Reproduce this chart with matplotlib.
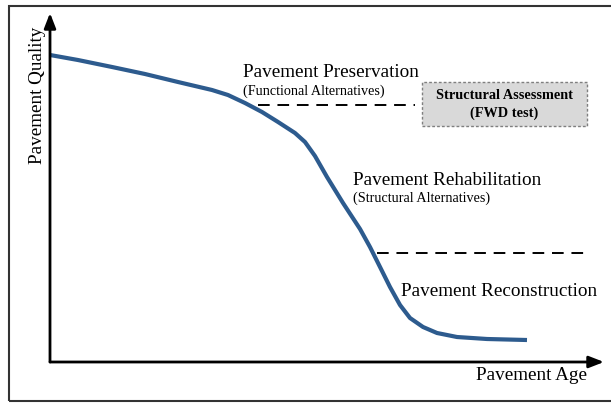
import matplotlib.pyplot as plt
from matplotlib.patches import Rectangle

plt.rcParams['font.family'] = ['Liberation Serif', 'DejaVu Serif']

# pavement deterioration curve (age vs quality, both 0-100)
age = [0, 5.05, 11.19, 17.15, 23.10, 29.24, 32.13, 35.20, 38.27, 41.16,
       44.22, 46.03, 47.83, 50.00, 52.89, 55.96, 57.76, 59.57, 61.37, 63.18,
       64.98, 67.33, 69.86, 73.47, 78.88, 86.10]
quality = [87.97, 86.53, 84.53, 82.52, 80.23, 77.94, 76.50, 74.21, 71.63,
           68.77, 65.62, 63.04, 59.03, 53.01, 45.56, 38.11, 32.95, 27.22,
           21.49, 16.33, 12.61, 10.03, 8.31, 7.16, 6.59, 6.30]

# threshold lines
upper_x = [37.5, 65.9]
upper_q = [73.6, 73.6]
lower_x = [59.0, 97.5]
lower_q = [31.2, 31.2]

W, H = 611, 403
fig = plt.figure(figsize=(W / 100, H / 100), dpi=100)

# outer frame
fig.patches.append(Rectangle((9 / W, 1 - 401 / H), 700 / W, 395 / H,
                             transform=fig.transFigure, fill=False,
                             edgecolor='#333333', lw=1.5))

ax = fig.add_axes([50 / W, 41 / H, 554 / W, 349 / H])
ax.set_xlim(0, 100)
ax.set_ylim(0, 100)
ax.axis('off')

# axes with arrows
arrow = dict(arrowstyle='-|>,head_length=0.9,head_width=0.35', color='black',
             lw=2.0, shrinkA=0, shrinkB=0)
ax.annotate('', xy=(100, 0), xytext=(0, 0), arrowprops=arrow)
ax.annotate('', xy=(0, 100), xytext=(0, 0), arrowprops=arrow)

ax.plot(age, quality, color='#2d5b8e', lw=3, solid_joinstyle='round',
        solid_capstyle='butt', clip_on=False)

ax.plot(upper_x, upper_q, color='black', lw=1.4, dashes=(6, 4), clip_on=False)
ax.plot(lower_x, lower_q, color='black', lw=1.4, dashes=(6, 4), clip_on=False)

# structural assessment box
ax.add_patch(Rectangle((67.1, 67.6), 29.8, 12.6, facecolor='#d9d9d9',
                       edgecolor='#7f7f7f', lw=1, ls=(0, (2, 1.5))))
ax.text(82.0, 76.5, 'Structural Assessment', ha='center', va='center',
        fontsize=10.3, fontweight='bold')
ax.text(82.0, 71.3, '(FWD test)', ha='center', va='center',
        fontsize=10.3, fontweight='bold')

ax.text(34.8, 83.0, 'Pavement Preservation', ha='left', va='center', fontsize=13.8)
ax.text(34.8, 77.6, '(Functional Alternatives)', ha='left', va='center', fontsize=10.2)
ax.text(54.7, 52.0, 'Pavement Rehabilitation', ha='left', va='center', fontsize=13.8)
ax.text(54.7, 46.8, '(Structural Alternatives)', ha='left', va='center', fontsize=10.2)
ax.text(63.4, 20.3, 'Pavement Reconstruction', ha='left', va='center', fontsize=13.8)
ax.text(97.0, -3.8, 'Pavement Age', ha='right', va='center', fontsize=13.8)
ax.text(-2.3, 96.0, 'Pavement Quality', ha='center', va='top', fontsize=13.8,
        rotation=90)

fig.savefig('out.png', dpi=100)
